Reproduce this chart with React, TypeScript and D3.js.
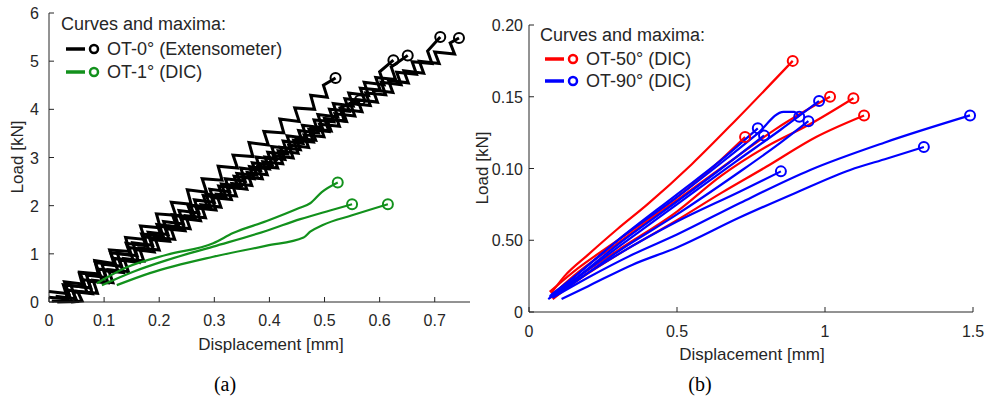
import React from "react";
import * as d3 from "d3";

type P = [number, number];

// ---------- Panel (a) data ----------
const aXTicks = [0, 0.1, 0.2, 0.3, 0.4, 0.5, 0.6, 0.7];
const aYTicks = [0, 1, 2, 3, 4, 5, 6];

const extA: P[] = [[0.000,0.10],[0.034,0.06],[0.026,0.36],[0.062,0.31],[0.055,0.60],[0.090,0.56],[0.083,0.86],[0.118,0.80],[0.110,1.08],[0.146,1.05],[0.139,1.34],[0.174,1.30],[0.166,1.58],[0.202,1.54],[0.195,1.83],[0.230,1.80],[0.222,2.07],[0.258,2.03],[0.251,2.33],[0.286,2.28],[0.278,2.56],[0.314,2.53],[0.307,2.82],[0.342,2.78],[0.334,3.05],[0.370,3.02],[0.363,3.31],[0.398,3.26],[0.390,3.54],[0.426,3.51],[0.419,3.80],[0.454,3.75],[0.446,4.03],[0.482,4.00],[0.475,4.29],[0.505,4.25],[0.498,4.50],[0.520,4.65]];
const extB: P[] = [[0.040,0.00],[0.060,0.02],[0.052,0.22],[0.088,0.18],[0.080,0.45],[0.116,0.40],[0.108,0.67],[0.144,0.63],[0.136,0.90],[0.172,0.85],[0.164,1.12],[0.200,1.08],[0.192,1.34],[0.228,1.30],[0.220,1.57],[0.256,1.52],[0.248,1.79],[0.284,1.75],[0.276,2.02],[0.312,1.97],[0.304,2.24],[0.340,2.20],[0.332,2.46],[0.368,2.42],[0.360,2.69],[0.396,2.64],[0.388,2.91],[0.424,2.87],[0.416,3.14],[0.452,3.09],[0.444,3.36],[0.480,3.32],[0.472,3.58],[0.508,3.54],[0.500,3.81],[0.536,3.76],[0.528,4.03],[0.564,4.19]];
const extC: P[] = [[0.005,0.02],[0.041,0.01],[0.033,0.25],[0.069,0.20],[0.061,0.46],[0.097,0.42],[0.089,0.68],[0.125,0.65],[0.117,0.91],[0.153,0.86],[0.145,1.13],[0.181,1.08],[0.173,1.35],[0.209,1.31],[0.201,1.57],[0.237,1.52],[0.229,1.79],[0.265,1.75],[0.257,2.01],[0.293,1.97],[0.285,2.24],[0.321,2.18],[0.313,2.45],[0.349,2.41],[0.341,2.67],[0.377,2.63],[0.369,2.89],[0.405,2.85],[0.397,3.11],[0.433,3.07],[0.425,3.34],[0.461,3.29],[0.453,3.56],[0.489,3.51],[0.481,3.78],[0.517,3.74],[0.509,4.00],[0.545,3.96],[0.537,4.22],[0.573,4.18],[0.565,4.44],[0.601,4.40],[0.593,4.66],[0.629,4.62],[0.621,4.88],[0.651,5.12]];
const extD: P[] = [[0.015,0.00],[0.051,0.01],[0.043,0.22],[0.079,0.17],[0.071,0.43],[0.107,0.40],[0.099,0.65],[0.135,0.61],[0.127,0.87],[0.163,0.82],[0.155,1.09],[0.191,1.04],[0.183,1.30],[0.219,1.26],[0.211,1.52],[0.247,1.48],[0.239,1.74],[0.275,1.69],[0.267,1.95],[0.303,1.91],[0.295,2.17],[0.331,2.13],[0.323,2.39],[0.359,2.34],[0.351,2.60],[0.387,2.56],[0.379,2.82],[0.415,2.78],[0.407,3.04],[0.443,2.99],[0.435,3.26],[0.471,3.21],[0.463,3.47],[0.499,3.43],[0.491,3.69],[0.527,3.65],[0.519,3.91],[0.555,3.86],[0.547,4.12],[0.583,4.08],[0.575,4.34],[0.611,4.30],[0.603,4.56],[0.639,4.51],[0.631,4.77],[0.667,4.73],[0.659,4.99],[0.695,4.95],[0.687,5.21],[0.710,5.50]];
const extE: P[] = [[0.000,0.22],[0.036,0.17],[0.028,0.42],[0.064,0.37],[0.056,0.62],[0.092,0.58],[0.084,0.82],[0.120,0.77],[0.112,1.02],[0.148,0.97],[0.140,1.22],[0.176,1.17],[0.168,1.41],[0.204,1.37],[0.196,1.61],[0.232,1.56],[0.224,1.81],[0.260,1.76],[0.252,2.01],[0.288,1.96],[0.280,2.21],[0.316,2.16],[0.308,2.41],[0.344,2.36],[0.336,2.61],[0.372,2.56],[0.364,2.81],[0.400,2.76],[0.392,3.01],[0.428,2.96],[0.420,3.21],[0.456,3.16],[0.448,3.40],[0.484,3.36],[0.476,3.60],[0.512,3.55],[0.504,3.80],[0.540,3.75],[0.532,4.00],[0.568,3.95],[0.560,4.20],[0.596,4.15],[0.588,4.40],[0.624,4.35],[0.616,4.60],[0.652,4.55],[0.644,4.80],[0.680,4.75],[0.672,5.00],[0.708,4.95],[0.700,5.19],[0.736,5.15],[0.728,5.38],[0.744,5.48]];
const extF: P[] = [[0.012,0.12],[0.048,0.07],[0.040,0.34],[0.076,0.29],[0.068,0.56],[0.104,0.51],[0.096,0.79],[0.132,0.74],[0.124,1.01],[0.160,0.96],[0.152,1.23],[0.188,1.18],[0.180,1.45],[0.216,1.40],[0.208,1.67],[0.244,1.62],[0.236,1.90],[0.272,1.85],[0.264,2.12],[0.300,2.07],[0.292,2.34],[0.328,2.29],[0.320,2.56],[0.356,2.51],[0.348,2.78],[0.384,2.73],[0.376,3.01],[0.412,2.96],[0.404,3.23],[0.440,3.18],[0.432,3.45],[0.468,3.40],[0.460,3.67],[0.496,3.62],[0.488,3.89],[0.524,3.84],[0.516,4.12],[0.552,4.07],[0.544,4.34],[0.580,4.29],[0.572,4.56],[0.608,4.51],[0.600,4.78],[0.625,5.02]];
const extCurves = [extA, extB, extC, extD, extE, extF];

const dicTop: P[] = [[0.087,0.39],[0.141,0.72],[0.214,0.98],[0.298,1.22],[0.334,1.43],[0.395,1.68],[0.454,1.95],[0.474,2.05],[0.495,2.28],[0.524,2.48]];
const dicMid: P[] = [[0.096,0.35],[0.153,0.63],[0.214,0.87],[0.298,1.15],[0.395,1.48],[0.456,1.72],[0.51,1.90],[0.55,2.03]];
const dicLow: P[] = [[0.123,0.35],[0.183,0.60],[0.298,0.94],[0.395,1.17],[0.462,1.34],[0.474,1.46],[0.497,1.60],[0.55,1.80],[0.615,2.03]];
const dicCurves = [dicTop, dicMid, dicLow];

// ---------- Panel (b) data ----------
const bXTicks = [0, 0.5, 1, 1.5];
const bXLabels = ["0", "0.5", "1", "1.5"];
const bYTicks = [0, 0.05, 0.1, 0.15, 0.2];
const bYLabels = ["0", "0.50", "0.10", "0.15", "0.20"];

const r50a: P[] = [[0.075,0.013],[0.12,0.025],[0.2,0.040],[0.3,0.058],[0.4,0.075],[0.55,0.103],[0.7,0.134],[0.891,0.175]];
const r50b: P[] = [[0.08,0.012],[0.15,0.025],[0.3,0.048],[0.5,0.078],[0.7,0.108],[0.837,0.128],[1.017,0.150]];
const r50c: P[] = [[0.075,0.010],[0.15,0.022],[0.3,0.043],[0.5,0.070],[0.65,0.095],[0.8,0.115],[0.95,0.131],[1.096,0.149]];
const r50d: P[] = [[0.08,0.009],[0.15,0.020],[0.3,0.040],[0.5,0.064],[0.65,0.083],[0.8,0.101],[0.97,0.122],[1.132,0.137]];
const r50e: P[] = [[0.07,0.014],[0.15,0.028],[0.3,0.050],[0.45,0.072],[0.6,0.097],[0.73,0.122]];
const ot50 = [r50a, r50b, r50c, r50d, r50e];

const b90a: P[] = [[0.07,0.010],[0.15,0.022],[0.3,0.045],[0.5,0.075],[0.7,0.105],[0.85,0.127],[0.98,0.147]];
const b90b: P[] = [[0.075,0.012],[0.15,0.024],[0.3,0.050],[0.5,0.080],[0.65,0.104],[0.77,0.124],[0.86,0.1395],[0.895,0.1395],[0.913,0.136]];
const b90c: P[] = [[0.08,0.010],[0.15,0.020],[0.3,0.042],[0.5,0.068],[0.7,0.096],[0.85,0.118],[0.944,0.133]];
const b90d: P[] = [[0.07,0.011],[0.15,0.024],[0.3,0.050],[0.5,0.082],[0.65,0.106],[0.773,0.128]];
const b90e: P[] = [[0.065,0.009],[0.15,0.022],[0.3,0.047],[0.5,0.077],[0.65,0.100],[0.794,0.123]];
const b90f: P[] = [[0.08,0.010],[0.2,0.024],[0.35,0.040],[0.5,0.054],[0.713,0.076],[0.95,0.099],[1.2,0.118],[1.49,0.137]];
const b90g: P[] = [[0.11,0.009],[0.2,0.018],[0.35,0.033],[0.5,0.045],[0.713,0.066],[0.9,0.083],[1.085,0.099],[1.21,0.107],[1.334,0.115]];
const b90h: P[] = [[0.07,0.010],[0.3,0.040],[0.5,0.063],[0.713,0.084],[0.851,0.098]];
const ot90 = [b90a, b90b, b90c, b90d, b90e, b90f, b90g, b90h];

const legendA = [
  { label: "OT-0° (Extensometer)", color: "#000000" },
  { label: "OT-1° (DIC)", color: "#12911c" },
];
const legendB = [
  { label: "OT-50° (DIC)", color: "#ff0000" },
  { label: "OT-90° (DIC)", color: "#0000ff" },
];

const AX = "#262626";
const FONT = "'Liberation Sans', Arial, sans-serif";

export default function App() {
  const ax = d3.scaleLinear().domain([0, 0.764]).range([49, 470]);
  const ay = d3.scaleLinear().domain([0, 6]).range([302, 13]);
  const bx = d3.scaleLinear().domain([0, 1.5]).range([529, 973]);
  const by = d3.scaleLinear().domain([0, 0.2]).range([312, 25]);

  const lineRaw = d3.line<P>().x((d) => ax(d[0])).y((d) => ay(d[1]));
  const lineA = d3.line<P>().x((d) => ax(d[0])).y((d) => ay(d[1])).curve(d3.curveMonotoneX);
  const lineB = d3.line<P>().x((d) => bx(d[0])).y((d) => by(d[1])).curve(d3.curveMonotoneX);

  const green = legendA[1].color;
  const red = legendB[0].color;
  const blue = legendB[1].color;

  const renderLegend = (
    items: { label: string; color: string }[],
    x0: number,
    titleY: number,
    rowYs: number[]
  ) => (
    <g fontFamily={FONT} fill={AX}>
      <text x={x0} y={titleY} fontSize={18}>Curves and maxima:</text>
      {items.map((it, i) => (
        <g key={it.label}>
          <line x1={x0 + 5} x2={x0 + 24} y1={rowYs[i] - 6} y2={rowYs[i] - 6} stroke={it.color} strokeWidth={3.5} />
          <circle cx={x0 + 33} cy={rowYs[i] - 6} r={4} fill="none" stroke={it.color} strokeWidth={2.5} />
          <text x={x0 + 46} y={rowYs[i]} fontSize={18}>{it.label}</text>
        </g>
      ))}
    </g>
  );

  return (
    <svg width={987} height={412} style={{ position: "absolute", left: 0, top: 0, background: "#fff" }}>
      <rect width={987} height={412} fill="#fff" />
      {/* ---------------- Panel (a) ---------------- */}
      <g>
        {extCurves.map((c, i) => (
          <path key={"e" + i} d={lineRaw(c) || ""} fill="none" stroke="#000" strokeWidth={3} strokeLinejoin="miter" strokeMiterlimit={3} />
        ))}
        {extCurves.map((c, i) => {
          const p = c[c.length - 1];
          return <circle key={"ec" + i} cx={ax(p[0])} cy={ay(p[1])} r={5} fill="none" stroke="#000" strokeWidth={2} />;
        })}
        {dicCurves.map((c, i) => (
          <path key={"d" + i} d={lineA(c) || ""} fill="none" stroke={green} strokeWidth={2.2} />
        ))}
        {dicCurves.map((c, i) => {
          const p = c[c.length - 1];
          return <circle key={"dc" + i} cx={ax(p[0])} cy={ay(p[1])} r={5} fill="none" stroke={green} strokeWidth={2} />;
        })}
        <line x1={ax(0)} x2={ax(0.764)} y1={302} y2={302} stroke={AX} strokeWidth={1} />
        <line x1={49} x2={49} y1={ay(0)} y2={ay(6)} stroke={AX} strokeWidth={1} />
        {aXTicks.map((t) => (
          <g key={"ax" + t}>
            <line x1={ax(t)} x2={ax(t)} y1={302} y2={297} stroke={AX} />
            <text x={ax(t)} y={326} fontSize={16} fontFamily={FONT} fill={AX} textAnchor="middle">{String(t)}</text>
          </g>
        ))}
        {aYTicks.map((t) => (
          <g key={"ay" + t}>
            <line x1={49} x2={54} y1={ay(t)} y2={ay(t)} stroke={AX} />
            <text x={39} y={ay(t) + 6} fontSize={16} fontFamily={FONT} fill={AX} textAnchor="end">{String(t)}</text>
          </g>
        ))}
        <text x={271} y={350} fontSize={17} fontFamily={FONT} fill={AX} textAnchor="middle">Displacement [mm]</text>
        <text transform={`translate(23,157) rotate(-90)`} fontSize={17} fontFamily={FONT} fill={AX} textAnchor="middle">Load [kN]</text>
        {renderLegend(legendA, 61, 30, [55, 78])}
      </g>

      {/* ---------------- Panel (b) ---------------- */}
      <g>
        {ot50.map((c, i) => (
          <path key={"r" + i} d={lineB(c) || ""} fill="none" stroke={red} strokeWidth={2.2} />
        ))}
        {ot90.map((c, i) => (
          <path key={"b" + i} d={lineB(c) || ""} fill="none" stroke={blue} strokeWidth={2.2} />
        ))}
        {ot50.map((c, i) => {
          const p = c[c.length - 1];
          return <circle key={"rc" + i} cx={bx(p[0])} cy={by(p[1])} r={5} fill="none" stroke={red} strokeWidth={2} />;
        })}
        {ot90.map((c, i) => {
          const p = c[c.length - 1];
          return <circle key={"bc" + i} cx={bx(p[0])} cy={by(p[1])} r={5} fill="none" stroke={blue} strokeWidth={2} />;
        })}
        <line x1={bx(0)} x2={bx(1.5)} y1={312} y2={312} stroke={AX} strokeWidth={1} />
        <line x1={529} x2={529} y1={by(0)} y2={by(0.2)} stroke={AX} strokeWidth={1} />
        {bXTicks.map((t, i) => (
          <g key={"bx" + t}>
            <line x1={bx(t)} x2={bx(t)} y1={312} y2={307} stroke={AX} />
            <text x={bx(t)} y={337} fontSize={16} fontFamily={FONT} fill={AX} textAnchor="middle">{bXLabels[i]}</text>
          </g>
        ))}
        {bYTicks.map((t, i) => (
          <g key={"by" + t}>
            <line x1={529} x2={534} y1={by(t)} y2={by(t)} stroke={AX} />
            <text x={523} y={by(t) + 6} fontSize={16} fontFamily={FONT} fill={AX} textAnchor="end">{bYLabels[i]}</text>
          </g>
        ))}
        <text x={752} y={360} fontSize={17} fontFamily={FONT} fill={AX} textAnchor="middle">Displacement [mm]</text>
        <text transform={`translate(488,168) rotate(-90)`} fontSize={17} fontFamily={FONT} fill={AX} textAnchor="middle">Load [kN]</text>
        {renderLegend(legendB, 540, 41, [65, 87])}
      </g>

      <text x={225} y={391} fontSize={20} fontFamily="'Liberation Serif', 'DejaVu Serif', serif" fill="#000" textAnchor="middle">(a)</text>
      <text x={700} y={391} fontSize={20} fontFamily="'Liberation Serif', 'DejaVu Serif', serif" fill="#000" textAnchor="middle">(b)</text>
    </svg>
  );
}
